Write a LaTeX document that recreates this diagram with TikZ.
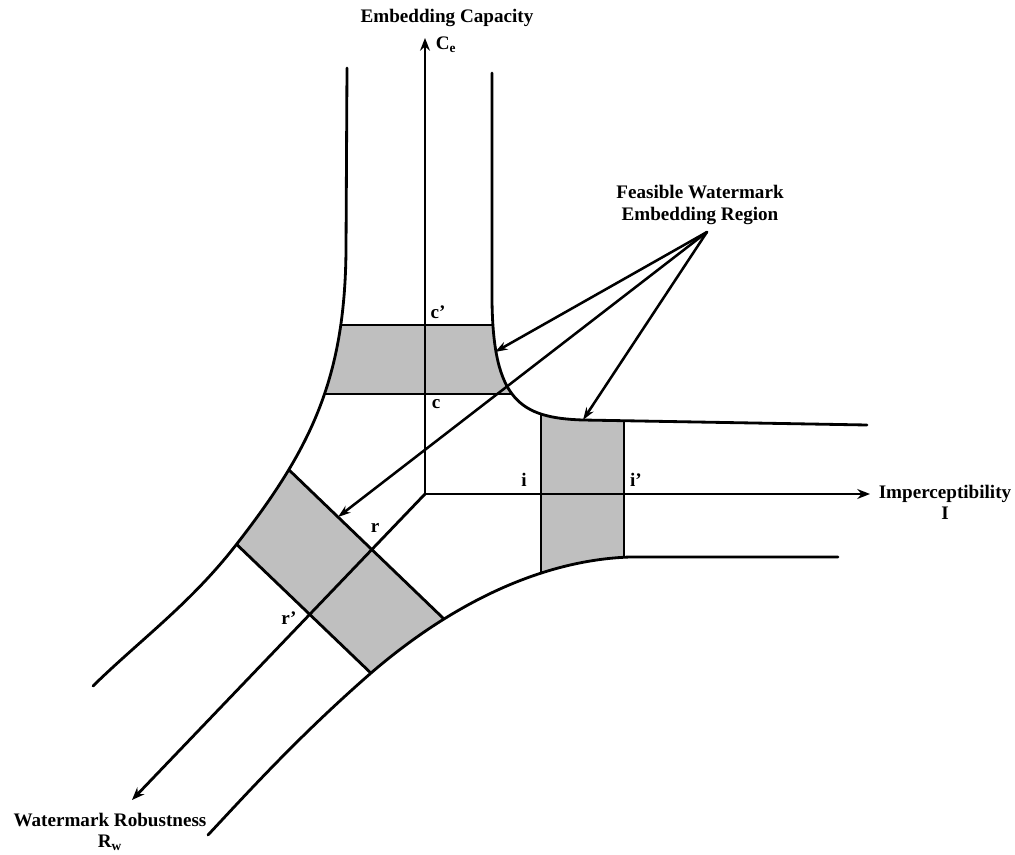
\documentclass[tikz,border=0pt]{standalone}
\usepackage{fontspec}
\setmainfont{Liberation Serif}
\usetikzlibrary{arrows.meta}

\begin{document}
\begin{tikzpicture}[x=0.025cm, y=-0.025cm, line cap=round, line join=round,
  lbl/.style={font=\fontsize{13.6}{15}\selectfont\bfseries, inner sep=0pt, align=center},
  axisarrow/.style={line width=2pt, -{Stealth[length=9pt,width=7pt]}},
  pointer/.style={line width=1.8pt, -{Stealth[length=9pt,width=6pt]}},
  bandline/.style={line width=2pt},
  boxfill/.style={fill=gray!50}]
\useasboundingbox (0,0) rectangle (1015,855);

% --- Origin and axis tips ---
\coordinate (O) at (425,494);
\coordinate (Ctip) at (425,38);
\coordinate (Itip) at (870,494);
\coordinate (Rtip) at (132,800);

% --- Shaded regions, clipped to the band between the curves ---
\begin{scope}
  \clip (347,68) -- (346,250) .. controls (345,380) and (310,450) .. (236,545)
        .. controls (190,604) and (140,640) .. (93,686)
        -- (208,835) .. controls (250,790) and (300,735) .. (371,673)
        .. controls (450,605) and (540,560) .. (630,557) -- (838,557)
        -- (867,425) -- (583,420) .. controls (520,418) and (493,400) .. (492,300)
        -- (492,73) -- cycle;
  % capacity box
  \fill[boxfill] (300,325) rectangle (560,394);
  % imperceptibility box
  \fill[boxfill] (541,380) rectangle (624,600);
  % robustness box
  \fill[boxfill] (260,442) -- (470,644) -- (400,701) -- (206,515) -- cycle;
  % box edges
  \draw[bandline] (300,325) -- (560,325);
  \draw[bandline] (300,394) -- (560,394);
  \draw[bandline] (541,380) -- (541,600);
  \draw[bandline] (624,380) -- (624,600);
  \draw[bandline] (260,442) -- (470,644);
  \draw[bandline] (206,515) -- (400,701);
\end{scope}

% --- Boundary curves ---
\draw[bandline] (347,68) -- (346,250) .. controls (345,380) and (310,450) .. (236,545)
      .. controls (190,604) and (140,640) .. (93,686);
\draw[bandline] (492,73) -- (492,300) .. controls (493,400) and (520,418) .. (583,420)
      -- (867,425);
\draw[bandline] (838,557) -- (630,557) .. controls (540,560) and (450,605) .. (371,673)
      .. controls (300,735) and (250,790) .. (208,835);

% --- Axes ---
\draw[axisarrow] (O) -- (Ctip);
\draw[axisarrow] (O) -- (Itip);
\draw[axisarrow] (O) -- (Rtip);

% --- Axis labels ---
\node[lbl] (capname) at (447,18) {Embedding Capacity};
\node[lbl] (capsym) at (446,45) {C\textsubscript{e}};
\node[lbl] (imp) at (945,502) {Imperceptibility\\I};
\node[lbl] (rob) at (110,832) {Watermark Robustness\\R\textsubscript{w}};

% --- Interval labels ---
\node[lbl] (cprime) at (438,312) {c'};
\node[lbl] (cpt) at (436,404) {c};
\node[lbl] (ipt) at (524,480) {i};
\node[lbl] (iprime) at (636,480) {i'};
\node[lbl] (rpt) at (375,528) {r};
\node[lbl] (rprime) at (289,618) {r'};

% --- Feasible region callout ---
\node[lbl] (feas) at (700,205) {Feasible Watermark\\Embedding Region};
\coordinate (src) at (707,232);
\coordinate (hitC) at (495,352);
\coordinate (hitR) at (338,517);
\coordinate (hitI) at (583,420);
\draw[pointer] (src) -- (hitC);
\draw[pointer] (src) -- (hitR);
\draw[pointer] (src) -- (hitI);

\end{tikzpicture}
\end{document}
